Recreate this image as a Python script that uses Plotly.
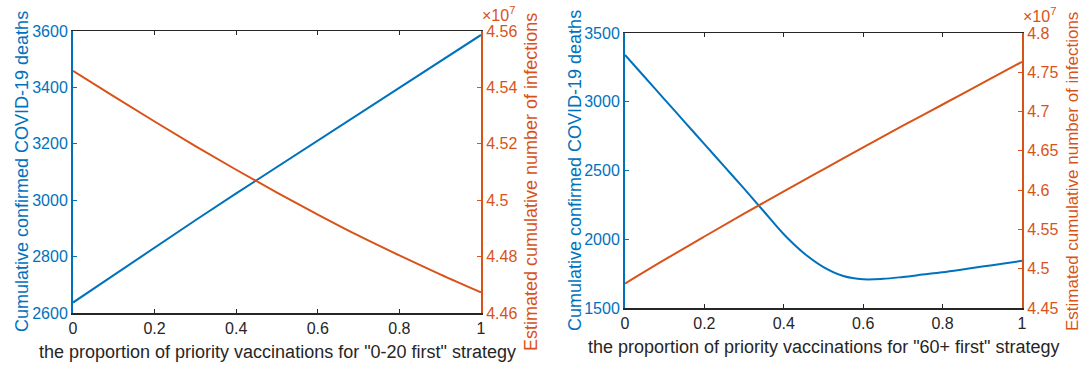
import plotly.graph_objects as go

# ---------------- data ----------------
x_a = [0.0, 0.1, 0.2, 0.3, 0.4, 0.5, 0.6, 0.7, 0.8, 0.9, 1.0]
deaths_a = [2637, 2735, 2832, 2929, 3024, 3118, 3212, 3307, 3400, 3493, 3586]
infections_a = [4.5459, 4.5368, 4.5279, 4.5192, 4.5108, 4.5027, 4.4949, 4.4874, 4.4804, 4.4737, 4.4673]  # x10^7

x_b = [0.0, 0.05, 0.1, 0.15, 0.2, 0.25, 0.3, 0.35, 0.4, 0.45, 0.5,
       0.55, 0.6, 0.65, 0.7, 0.75, 0.8, 0.85, 0.9, 0.95, 1.0]
deaths_b = [3340, 3178, 3016, 2854, 2692, 2530, 2368, 2202, 2036, 1900, 1798,
            1733, 1709, 1712, 1726, 1743, 1760, 1780, 1801, 1822, 1843]
x_b_inf = [0.0, 0.1, 0.2, 0.3, 0.4, 0.5, 0.6, 0.7, 0.8, 0.9, 1.0]
infections_b = [4.4811, 4.5115, 4.5410, 4.5700, 4.5985, 4.6265, 4.6545, 4.6820, 4.7090, 4.7362, 4.7634]  # x10^7

x_ticks = [0, 0.2, 0.4, 0.6, 0.8, 1]
x_ticktext = ["0", "0.2", "0.4", "0.6", "0.8", "1"]
left_ticks_a = [2600, 2800, 3000, 3200, 3400, 3600]
right_ticks_a = [4.46, 4.48, 4.50, 4.52, 4.54, 4.56]
right_text_a = ["4.46", "4.48", "4.5", "4.52", "4.54", "4.56"]
left_ticks_b = [1500, 2000, 2500, 3000, 3500]
right_ticks_b = [4.45, 4.50, 4.55, 4.60, 4.65, 4.70, 4.75, 4.80]
right_text_b = ["4.45", "4.5", "4.55", "4.6", "4.65", "4.7", "4.75", "4.8"]

y_title_left = "Cumulative confirmed COVID-19 deaths"
y_title_right = "Estimated cumulative number of infections"
x_title_a = 'the proportion of priority vaccinations for "0-20 first" strategy'
x_title_b = 'the proportion of priority vaccinations for "60+ first" strategy'

# ---------------- style ----------------
W, H = 1084, 365
BLUE = "#0072BD"
ORANGE = "#D95319"
DARK = "#262626"
FONT = "Liberation Sans, Arial, sans-serif"
FS = 16
TS = 18

def px_x(p):
    return p / W

def px_y(p):
    return 1 - p / H

# plot areas in window pixels
A = dict(x0=73, x1=481, y0=31, y1=313)
B = dict(x0=625, x1=1022, y0=33, y1=308)

fig = go.Figure()
fig.add_trace(go.Scatter(x=x_a, y=deaths_a, mode="lines", line=dict(color=BLUE, width=2),
                         xaxis="x", yaxis="y", showlegend=False))
fig.add_trace(go.Scatter(x=x_a, y=infections_a, mode="lines", line=dict(color=ORANGE, width=2, shape="spline"),
                         xaxis="x", yaxis="y2", showlegend=False))
fig.add_trace(go.Scatter(x=x_b, y=deaths_b, mode="lines", line=dict(color=BLUE, width=2, shape="spline"),
                         xaxis="x2", yaxis="y3", showlegend=False))
fig.add_trace(go.Scatter(x=x_b_inf, y=infections_b, mode="lines", line=dict(color=ORANGE, width=2, shape="spline"),
                         xaxis="x2", yaxis="y4", showlegend=False))

def xaxis(dom, anchor):
    return dict(domain=dom, anchor=anchor, range=[0, 1], tickvals=x_ticks, ticktext=x_ticktext,
                showgrid=False, zeroline=False, showline=True, linecolor=DARK, linewidth=1.5,
                mirror="ticks", ticks="inside", ticklen=4, tickcolor=DARK, tickwidth=1,
                automargin=False,
                tickfont=dict(family=FONT, size=FS, color=DARK), fixedrange=True)

def yaxis(dom, anchor, rng, tv, tt, color, side, overlaying=None):
    d = dict(domain=dom, anchor=anchor, range=rng, tickvals=tv, ticktext=tt, side=side,
             showgrid=False, zeroline=False, showline=True, linecolor=color, linewidth=2,
             ticks="inside", ticklen=4, tickcolor=color, tickwidth=1, automargin=False,
             tickfont=dict(family=FONT, size=FS, color=color), fixedrange=True)
    if overlaying:
        d["overlaying"] = overlaying
    return d

xa_dom = [px_x(A["x0"]), px_x(A["x1"])]
ya_dom = [px_y(A["y1"]), px_y(A["y0"])]
xb_dom = [px_x(B["x0"]), px_x(B["x1"])]
yb_dom = [px_y(B["y1"]), px_y(B["y0"])]

fig.update_layout(
    template="none",
    width=W, height=H, autosize=False,
    margin=dict(l=0, r=0, t=0, b=0, pad=0),
    paper_bgcolor="white", plot_bgcolor="white",
    font=dict(family=FONT, size=FS, color=DARK),
    hovermode=False,
    xaxis=xaxis(xa_dom, "y"),
    yaxis=yaxis(ya_dom, "x", [2600, 3600], left_ticks_a, [str(v) for v in left_ticks_a], BLUE, "left"),
    yaxis2=yaxis(ya_dom, "x", [4.46, 4.56], right_ticks_a, right_text_a, ORANGE, "right", overlaying="y"),
    xaxis2=xaxis(xb_dom, "y3"),
    yaxis3=yaxis(yb_dom, "x2", [1500, 3500], left_ticks_b, [str(v) for v in left_ticks_b], BLUE, "left"),
    yaxis4=yaxis(yb_dom, "x2", [4.45, 4.80], right_ticks_b, right_text_b, ORANGE, "right", overlaying="y3"),
)

ann = []
def add_text(text, xp, yp, color, angle=0, xanchor="center", yanchor="middle", size=TS):
    ann.append(dict(text=text, x=px_x(xp), y=px_y(yp), xref="paper", yref="paper",
                    showarrow=False, textangle=angle, xanchor=xanchor, yanchor=yanchor,
                    font=dict(family=FONT, size=size, color=color)))

# panel A titles
add_text(y_title_left, 22, 172, BLUE, angle=-90)
add_text(y_title_right, 531, 182, ORANGE, angle=-90)
add_text(x_title_a, (A["x0"] + A["x1"]) / 2, 352, DARK)
add_text("×10<sup>7</sup>", 480, 14, ORANGE, xanchor="left", size=FS)
# panel B titles
add_text(y_title_left, 575, 171, BLUE, angle=-90)
add_text(y_title_right, 1072, 172, ORANGE, angle=-90, size=17)
add_text(x_title_b, (B["x0"] + B["x1"]) / 2, 347, DARK)
add_text("×10<sup>7</sup>", 1021, 15, ORANGE, xanchor="left", size=FS)

fig.update_layout(annotations=ann)
fig.write_html(
    "out.html",
    config={"displayModeBar": False, "staticPlot": True},
    post_script="document.body.style.margin='0px';document.body.style.overflow='hidden';",
)
